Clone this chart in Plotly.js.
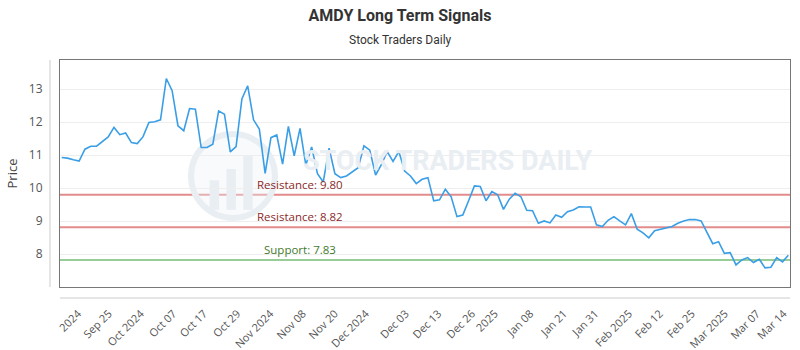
<!DOCTYPE html>
<html>
<head>
<meta charset="utf-8">
<script src="https://cdn.plot.ly/plotly-3.0.1.min.js"></script>
<style>html,body{margin:0;padding:0;background:#fff;}#chart{width:800px;height:350px;}</style>
</head>
<body>
<div id="chart"></div>
<script>
// Closing prices (one per session, in order)
const prices = [
  10.93,10.91,10.86,10.82,11.18,11.27,11.27,11.40,11.55,11.84,
  11.62,11.67,11.38,11.35,11.56,11.99,12.01,12.07,13.32,12.95,
  11.89,11.74,12.41,12.39,11.23,11.23,11.33,12.34,12.24,11.10,
  11.26,12.70,13.10,12.07,11.79,10.45,11.53,11.61,10.73,11.87,
  10.98,11.81,10.70,11.25,10.44,10.19,11.21,10.44,10.32,10.37,
  10.49,10.62,11.28,11.15,10.40,10.71,11.11,10.81,11.11,10.52,
  10.37,10.14,10.27,10.32,9.62,9.65,9.97,9.74,9.14,9.19,
  9.62,10.07,10.05,9.62,9.90,9.80,9.36,9.67,9.85,9.74,
  9.33,9.32,8.94,9.01,8.95,9.19,9.12,9.29,9.34,9.44,
  9.43,9.43,8.89,8.84,9.03,9.14,9.01,8.89,9.23,8.76,
  8.65,8.50,8.71,8.76,8.80,8.84,8.94,9.01,9.05,9.05,
  9.01,8.65,8.32,8.38,8.03,8.05,7.68,7.83,7.90,7.75,
  7.85,7.59,7.61,7.90,7.77,7.97
];
// Tick labels and the session index each one sits at
const tickLabels = ["2024","Sep 25","Oct 2024","Oct 07","Oct 17","Oct 29","Nov 2024","Nov 08","Nov 20","Dec 2024","Dec 03","Dec 13","Dec 26","2025","Jan 08","Jan 21","Jan 31","Feb 2025","Feb 12","Feb 25","Mar 2025","Mar 07","Mar 14"];
const tickIndex  = [2.8,8.1,13.6,19.2,24.5,30.2,35.9,41.5,47.0,52.3,59.2,64.8,70.6,74.5,80.6,86.4,91.8,97.6,102.9,108.4,114.1,119.6,124.2];
// Signal levels
const levelNames  = ["Resistance","Resistance","Support"];
const levelValues = [9.80, 8.82, 7.83];

const idx = prices.map((_, i) => i);
const levelLine  = ["rgba(222,120,120,0.85)","rgba(222,120,120,0.85)","rgba(140,200,140,0.9)"];
const levelText  = ["#8b2a2a","#8b2a2a","#3f7a2c"];
const labelAt = 41;
const wm = '#e9eef3';

const shapes = levelValues.map((v, i) => ({
  type: 'line', xref: 'paper', x0: 0, x1: 1, yref: 'y', y0: v, y1: v,
  line: {color: levelLine[i], width: 2}, layer: 'below'
}));
// offset axis lines
shapes.push({type:'line', xref:'paper', yref:'paper', x0:-0.0137, x1:-0.0137, y0:0, y1:1, line:{color:'#cccccc', width:1}});
shapes.push({type:'line', xref:'paper', yref:'paper', x0:0, x1:1, y0:-0.0485, y1:-0.0485, line:{color:'#cccccc', width:1}});
// faint watermark logo
shapes.push({type:'circle', xref:'paper', yref:'paper', x0:0.1795, x1:0.2945, y0:0.304, y1:0.674, line:{color:wm, width:6}, fillcolor:'rgba(235,240,245,0.35)', layer:'below'});
shapes.push({type:'rect', xref:'paper', yref:'paper', x0:0.205, x1:0.218, y0:0.34, y1:0.47, line:{width:0}, fillcolor:wm, layer:'below'});
shapes.push({type:'rect', xref:'paper', yref:'paper', x0:0.228, x1:0.241, y0:0.34, y1:0.52, line:{width:0}, fillcolor:wm, layer:'below'});
shapes.push({type:'rect', xref:'paper', yref:'paper', x0:0.251, x1:0.264, y0:0.34, y1:0.58, line:{width:0}, fillcolor:wm, layer:'below'});

const annotations = levelValues.map((v, i) => ({
  x: labelAt, y: v, xref: 'x', yref: 'y', yanchor: 'bottom', yshift: 1,
  text: levelNames[i] + ': ' + v.toFixed(2), showarrow: false,
  font: {family: 'Open Sans, sans-serif', size: 11.5, color: levelText[i]}
}));
annotations.push({
  xref: 'paper', yref: 'paper', x: 0.4658, y: 1.088, xanchor: 'center', yanchor: 'middle',
  text: 'Stock Traders Daily', showarrow: false,
  font: {family: 'Roboto, sans-serif', size: 12, color: '#333'}
});
annotations.push({
  xref: 'paper', yref: 'paper', x: 0.5315, y: 0.555, xanchor: 'center', yanchor: 'middle',
  text: 'STOCK TRADERS DAILY', showarrow: false, borderpad: 0,
  font: {family: 'Roboto, sans-serif', size: 27, weight: 700, color: wm}
});

const data = [{
  type: 'scatter', mode: 'lines', x: idx, y: prices,
  line: {color: '#3a9ee6', width: 1.6}, hoverinfo: 'y'
}];

const layout = {
  width: 800, height: 350,
  margin: {l: 60, r: 10, t: 60, b: 63},
  paper_bgcolor: '#fff', plot_bgcolor: '#fff',
  showlegend: false,
  title: {text: 'AMDY Long Term Signals', x: 0.5, xref: 'container', xanchor: 'center',
          y: 0.957, yref: 'container', yanchor: 'middle',
          font: {family: 'Roboto, sans-serif', size: 16, weight: 700, color: '#333'}},
  xaxis: {
    range: [-0.29, 125.29], tickvals: tickIndex, ticktext: tickLabels,
    tickangle: -45, tickfont: {family: 'Open Sans, sans-serif', size: 11, color: '#555'},
    showgrid: false, zeroline: false, showline: true, mirror: true, linecolor: '#777', linewidth: 1,
    ticks: '', ticklabelstandoff: 15
  },
  yaxis: {
    range: [7.01, 13.88], tickvals: [8,9,10,11,12,13],
    tickfont: {family: 'Open Sans, sans-serif', size: 12, color: '#555'},
    gridcolor: '#eeeeee', zeroline: false, showline: true, mirror: true, linecolor: '#777', linewidth: 1,
    ticks: '', ticklabelstandoff: 14,
    title: {text: 'Price', standoff: 8, font: {family: 'Open Sans, sans-serif', size: 13, color: '#444'}}
  },
  shapes: shapes,
  annotations: annotations
};

Plotly.newPlot('chart', data, layout, {displayModeBar: false, staticPlot: true});
</script>
</body>
</html>
